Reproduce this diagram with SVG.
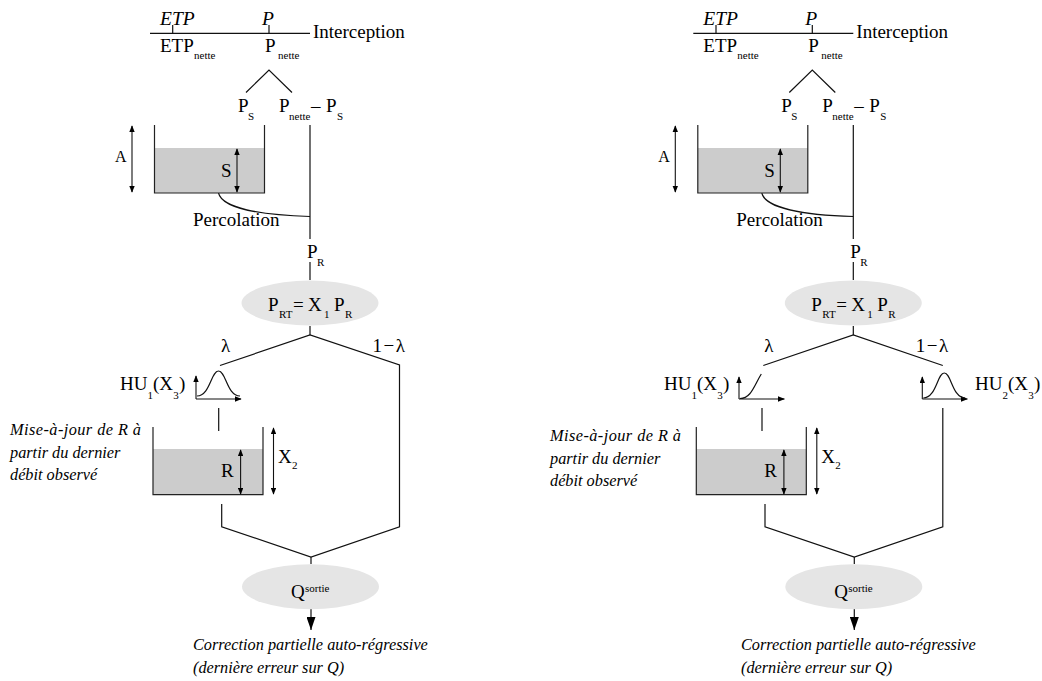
<svg xmlns="http://www.w3.org/2000/svg" width="1042" height="681" viewBox="0 0 1042 681">
<style>
text{font-family:"Liberation Serif","Times New Roman",serif;font-size:19px;fill:#000}
.i{font-style:italic;font-size:19.5px}
.n{font-style:italic;font-size:16.3px}
.s{font-size:11px}
.l{letter-spacing:1.5px}
.c{fill:none;stroke:#111;stroke-width:1.2}
.a{fill:none;stroke:#111;stroke-width:1.1;marker-start:url(#h);marker-end:url(#h)}
.u{fill:none;stroke:#111;stroke-width:1.1;marker-end:url(#h)}
.t{fill:none;stroke:#222;stroke-width:1.2}
.w{fill:#ccc}
.e{fill:#e5e5e5}
.o{fill:none;stroke:#111;stroke-width:1.2;marker-end:url(#b)}
</style>
<defs>
<marker id="h" viewBox="0 0 10 8" refX="9" refY="4" markerUnits="userSpaceOnUse" markerWidth="7" markerHeight="5.6" orient="auto-start-reverse"><path d="M0 0L10 4L0 8Z" fill="#000"/></marker>
<marker id="b" viewBox="0 0 13 9" refX="13" refY="4.500" markerUnits="userSpaceOnUse" markerWidth="13" markerHeight="9" orient="auto"><path d="M0 0L13 4.500L0 9Z" fill="#000"/></marker>
</defs>

<g id="panel-left">
<g id="connectors-left">
<path class="c" d="M150 33.3H310M172.7 25V33.3M269 25V33.3"/>
<path class="c" d="M246 92.500L269 70L292 92.500"/>
<path class="c" d="M310 125V239"/>
<path class="c" d="M218.500 193C222 208 260 215 310 216.500"/>
<path class="c" d="M310 262V280M310 326V335"/>
<path class="c" d="M220 365.500L310 335L399.500 365V526.700L311 557L221.700 526.700V504"/>
<path class="c" d="M311 557V564"/>
<path class="c" d="M218.700 408V431"/>
<path class="o" d="M311 609V630"/>
</g>
<g id="interception-left">
<text class="i" x="160" y="25">ETP</text><text class="i" x="262" y="25">P</text>
<text x="313" y="38">Interception</text>
<text x="160" y="52">ETP<tspan class="s" x="194" y="59">nette</tspan></text>
<text x="265" y="52">P<tspan class="s" x="278" y="59">nette</tspan></text>
</g>
<g id="split-left">
<text x="238" y="112">P<tspan class="s" x="248" y="120">S</tspan></text>
<text x="279" y="112">P<tspan class="s" x="289" y="120">nette</tspan><tspan x="311" y="112">–</tspan><tspan x="326" y="112">P</tspan><tspan class="s" x="337" y="120">S</tspan></text>
</g>
<g id="tank-s-left">
<rect class="w" x="154.500" y="148" width="110" height="45"/>
<path class="t" d="M154.500 125V193H264.500V125"/>
<path class="a" d="M132 126V192"/><path class="a" d="M237 149V192"/>
<text x="115" y="162" style="font-size:16px">A</text>
<text x="221" y="177">S</text>
<text x="193" y="226">Percolation</text>
</g>
<g id="pr-left"><text x="307" y="258">P<tspan class="s" x="317" y="266">R</tspan></text></g>
<g id="ellipse-prt-left">
<ellipse class="e" cx="310" cy="303" rx="68.500" ry="22.500"/>
<text x="268" y="311">P<tspan class="s" x="279" y="318">RT</tspan><tspan x="293" y="311">=</tspan><tspan x="308" y="311">X</tspan><tspan class="s" x="324" y="318">1</tspan><tspan x="334" y="311">P</tspan><tspan class="s" x="345" y="318">R</tspan></text>
</g>
<g id="lambda-left"><text x="221" y="352">λ</text><text class="l" x="372.500" y="352">1−λ</text></g>
<g id="hu1-left">
<text x="120" y="390">HU<tspan class="s" x="147.600" y="399">1</tspan><tspan x="153" y="390">(X</tspan><tspan class="s" x="173.200" y="399">3</tspan><tspan x="179" y="390">)</tspan></text>
<path class="u" d="M196 399V376"/><path class="u" d="M196 399H241"/>
<path class="c" d="M197 396C210 396 211 371 218.500 371C226 371 227 396 240 396"/>
</g>
<g id="update-left">
<text class="n" x="10" y="435" textLength="131">Mise-à-jour de R à</text>
<text class="n" x="10" y="458">partir du dernier</text>
<text class="n" x="10" y="480">débit observé</text>
</g>
<g id="tank-r-left">
<rect class="w" x="153" y="449" width="110" height="45.700"/>
<path class="t" d="M153 427V494.700H263V427"/>
<path class="a" d="M240.600 450V494"/><path class="a" d="M273.500 428V494"/>
<text x="221" y="477">R</text>
<text x="278" y="462.500">X<tspan class="s" x="292" y="469">2</tspan></text>
</g>
<g id="ellipse-q-left">
<ellipse class="e" cx="310.500" cy="586.700" rx="68.500" ry="22.500"/>
<text x="291" y="598">Q<tspan class="s" x="305" y="591.500">sortie</tspan></text>
</g>
<g id="correction-left">
<text class="n" x="193" y="650">Correction partielle auto-régressive</text>
<text class="n" x="193" y="673">(dernière erreur sur Q)</text>
</g>
</g>

<g id="panel-right" transform="translate(543.3 0)">
<g id="connectors-right">
<path class="c" d="M150 33.3H310M172.7 25V33.3M269 25V33.3"/>
<path class="c" d="M246 92.500L269 70L292 92.500"/>
<path class="c" d="M310 125V239"/>
<path class="c" d="M218.500 193C222 208 260 215 310 216.500"/>
<path class="c" d="M310 262V280M310 326V335"/>
<path class="c" d="M220 365.500L310 335L399.500 365.500"/>
<path class="c" d="M399.500 408V526.700L311 557L221.700 526.700V504"/>
<path class="c" d="M311 557V564"/>
<path class="c" d="M218.700 408V431"/>
<path class="o" d="M311 609V630"/>
</g>
<g id="interception-right">
<text class="i" x="160" y="25">ETP</text><text class="i" x="262" y="25">P</text>
<text x="313" y="38">Interception</text>
<text x="160" y="52">ETP<tspan class="s" x="194" y="59">nette</tspan></text>
<text x="265" y="52">P<tspan class="s" x="278" y="59">nette</tspan></text>
</g>
<g id="split-right">
<text x="238" y="112">P<tspan class="s" x="248" y="120">S</tspan></text>
<text x="279" y="112">P<tspan class="s" x="289" y="120">nette</tspan><tspan x="311" y="112">–</tspan><tspan x="326" y="112">P</tspan><tspan class="s" x="337" y="120">S</tspan></text>
</g>
<g id="tank-s-right">
<rect class="w" x="154.500" y="148" width="110" height="45"/>
<path class="t" d="M154.500 125V193H264.500V125"/>
<path class="a" d="M132 126V192"/><path class="a" d="M237 149V192"/>
<text x="115" y="162" style="font-size:16px">A</text>
<text x="221" y="177">S</text>
<text x="193" y="226">Percolation</text>
</g>
<g id="pr-right"><text x="307" y="258">P<tspan class="s" x="317" y="266">R</tspan></text></g>
<g id="ellipse-prt-right">
<ellipse class="e" cx="310" cy="303" rx="68.500" ry="22.500"/>
<text x="268" y="311">P<tspan class="s" x="279" y="318">RT</tspan><tspan x="293" y="311">=</tspan><tspan x="308" y="311">X</tspan><tspan class="s" x="324" y="318">1</tspan><tspan x="334" y="311">P</tspan><tspan class="s" x="345" y="318">R</tspan></text>
</g>
<g id="lambda-right"><text x="221" y="352">λ</text><text class="l" x="372.500" y="352">1−λ</text></g>
<g id="hu1-right">
<text x="120.700" y="390">HU<tspan class="s" x="148.300" y="399">1</tspan><tspan x="153.700" y="390">(X</tspan><tspan class="s" x="173.900" y="399">3</tspan><tspan x="179.700" y="390">)</tspan></text>
<path class="u" d="M195.700 399V377"/><path class="u" d="M195.700 399H241"/>
<path class="c" d="M196.700 398.500C208 398.500 211 385 218 374"/>
</g>
<g id="hu2-right">
<text x="431.700" y="390">HU<tspan class="s" x="459.300" y="399">2</tspan><tspan x="464.700" y="390">(X</tspan><tspan class="s" x="484.900" y="399">3</tspan><tspan x="490.700" y="390">)</tspan></text>
<path class="u" d="M379 399V377"/><path class="u" d="M379 399H424"/>
<path class="c" d="M380 398C393 398 394 373 401 373C408 373 409 398 422 398"/>
</g>
<g id="update-right">
<text class="n" x="6.700" y="441" textLength="131">Mise-à-jour de R à</text>
<text class="n" x="6.700" y="464">partir du dernier</text>
<text class="n" x="6.700" y="486">débit observé</text>
</g>
<g id="tank-r-right">
<rect class="w" x="153" y="449" width="110" height="45.700"/>
<path class="t" d="M153 427V494.700H263V427"/>
<path class="a" d="M240.600 450V494"/><path class="a" d="M273.500 428V494"/>
<text x="221" y="477">R</text>
<text x="278" y="462.500">X<tspan class="s" x="292" y="469">2</tspan></text>
</g>
<g id="ellipse-q-right">
<ellipse class="e" cx="310.500" cy="586.700" rx="68.500" ry="22.500"/>
<text x="291" y="598">Q<tspan class="s" x="305" y="591.500">sortie</tspan></text>
</g>
<g id="correction-right">
<text class="n" x="197.700" y="650">Correction partielle auto-régressive</text>
<text class="n" x="197.700" y="673">(dernière erreur sur Q)</text>
</g>
</g>
</svg>
